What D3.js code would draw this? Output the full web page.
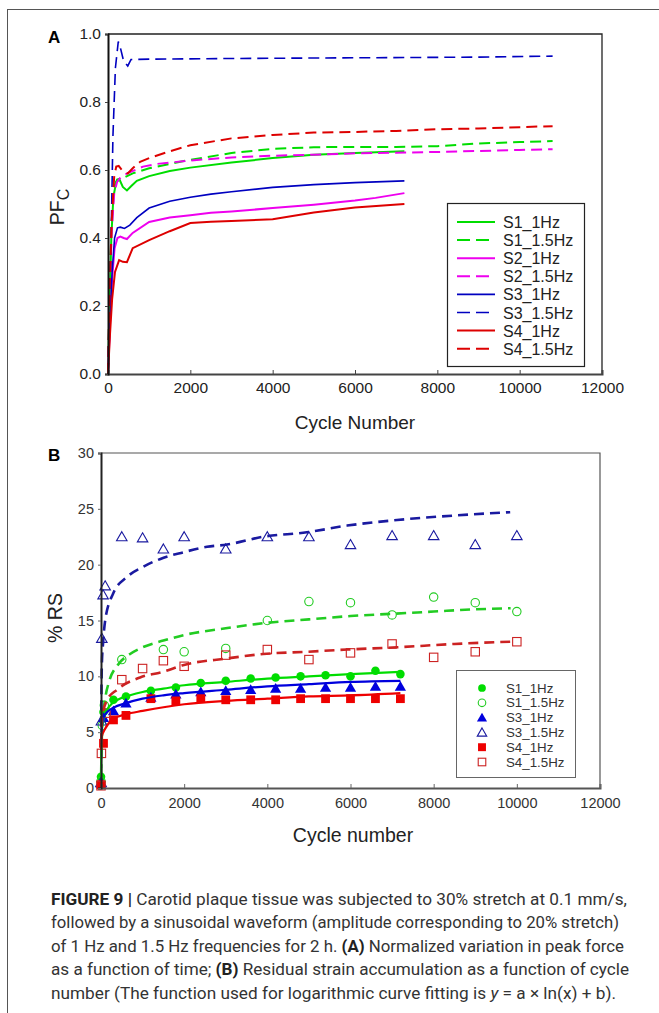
<!DOCTYPE html>
<html>
<head>
<meta charset="utf-8">
<script src="https://cdnjs.cloudflare.com/ajax/libs/d3/7.8.5/d3.min.js"></script>
<style>
  body { margin: 0; background: #fff; }
  svg { display: block; font-family: "Liberation Sans", Arial, sans-serif; }
</style>
</head>
<body>
<svg id="fig" width="659" height="1013"></svg>
<script>
// ---------- Panel A data: normalised peak force vs cycle number ----------
var xTicksA = [0, 2000, 4000, 6000, 8000, 10000, 12000];
var yTicksA = [0.0, 0.2, 0.4, 0.6, 0.8, 1.0];

var s1_1Hz = [[0,0],[40,0.2],[80,0.4],[130,0.52],[200,0.565],[280,0.572],[360,0.55],[460,0.54],[560,0.552],[700,0.568],[1000,0.582],[1500,0.597],[2000,0.607],[3000,0.622],[4000,0.635],[5000,0.645],[6000,0.65],[7200,0.655]];
var s1_15Hz = [[0,0],[40,0.25],[90,0.45],[150,0.55],[220,0.572],[300,0.575],[400,0.578],[600,0.59],[1000,0.605],[1500,0.618],[2000,0.63],[3000,0.65],[4000,0.662],[5000,0.667],[6000,0.668],[7000,0.668],[8000,0.67],[9000,0.678],[10000,0.682],[10800,0.685]];
var s2_1Hz = [[0,0],[50,0.15],[100,0.28],[160,0.37],[230,0.4],[300,0.404],[380,0.4],[460,0.397],[600,0.415],[1000,0.447],[1500,0.46],[2000,0.467],[2500,0.474],[3000,0.478],[4000,0.488],[5000,0.498],[6000,0.51],[6500,0.518],[7200,0.532]];
var s2_15Hz = [[0,0],[40,0.22],[90,0.42],[150,0.53],[220,0.565],[320,0.58],[500,0.592],[850,0.61],[1200,0.618],[2000,0.628],[3000,0.637],[4000,0.642],[5000,0.645],[6000,0.649],[7000,0.651],[8000,0.653],[9000,0.656],[10000,0.659],[10800,0.661]];
var s3_1Hz = [[0,0],[50,0.15],[100,0.3],[160,0.4],[230,0.43],[300,0.432],[400,0.428],[530,0.438],[700,0.46],[1000,0.488],[1500,0.508],[2000,0.52],[2500,0.529],[3000,0.536],[4000,0.549],[5000,0.557],[6000,0.563],[7200,0.568]];
var s3_15Hz = [[0,0],[60,0.3],[120,0.7],[180,0.9],[250,0.978],[300,0.96],[380,0.92],[480,0.906],[560,0.925],[1000,0.926],[3000,0.928],[6000,0.93],[9000,0.932],[10800,0.935]];
var s4_1Hz = [[0,0],[50,0.12],[100,0.22],[170,0.3],[270,0.335],[360,0.33],[460,0.329],[600,0.37],[1000,0.394],[1500,0.42],[2000,0.444],[2500,0.448],[3000,0.45],[4000,0.455],[5000,0.475],[6000,0.49],[7200,0.5]];
var s4_15Hz = [[0,0],[40,0.25],[90,0.45],[150,0.58],[200,0.61],[260,0.612],[350,0.598],[480,0.59],[600,0.605],[780,0.624],[1000,0.635],[1500,0.655],[2000,0.673],[3000,0.693],[4000,0.703],[5000,0.71],[6000,0.712],[7000,0.715],[8000,0.72],[9000,0.722],[10000,0.726],[10800,0.729]];

var seriesA = [
  {name: "S1_1Hz",   data: s1_1Hz,  color: "#00dd00", dash: null,   w: 2},
  {name: "S1_1.5Hz", data: s1_15Hz, color: "#00dd00", dash: "11,6", w: 2},
  {name: "S2_1Hz",   data: s2_1Hz,  color: "#ee00ee", dash: null,   w: 2},
  {name: "S2_1.5Hz", data: s2_15Hz, color: "#ee00ee", dash: "11,6", w: 2},
  {name: "S3_1Hz",   data: s3_1Hz,  color: "#0000c0", dash: null,   w: 1.6},
  {name: "S3_1.5Hz", data: s3_15Hz, color: "#0000c0", dash: "11,6", w: 1.6},
  {name: "S4_1Hz",   data: s4_1Hz,  color: "#dd0000", dash: null,   w: 2},
  {name: "S4_1.5Hz", data: s4_15Hz, color: "#dd0000", dash: "11,6", w: 2}
];

// ---------- Panel B data: residual strain (%) vs cycle number ----------
var xTicksB = [0, 2000, 4000, 6000, 8000, 10000, 12000];
var yTicksB = [0, 5, 10, 15, 20, 25, 30];

// measured points
var rsS1_1Hz = [[0,1.0],[60,6.8],[300,7.9],[600,8.2],[1200,8.7],[1800,9.0],[2400,9.4],[3000,9.6],[3600,9.8],[4200,9.9],[4800,10.0],[5400,10.1],[6000,10.0],[6600,10.5],[7200,10.2]];
var rsS1_15Hz = [[0,0.6],[30,5.6],[80,7.4],[500,11.5],[1500,12.4],[2000,12.2],[3000,12.5],[4000,15.0],[5000,16.7],[6000,16.6],[7000,15.5],[8000,17.1],[9000,16.6],[10000,15.8]];
var rsS3_1Hz = [[0,0.4],[60,6.3],[300,6.9],[600,7.6],[1200,8.1],[1800,8.4],[2400,8.6],[3000,8.7],[3600,8.8],[4200,8.9],[4800,8.9],[5400,9.0],[6000,9.0],[6600,9.1],[7200,9.1]];
var rsS3_15Hz = [[0,0.5],[10,6.0],[20,13.4],[50,17.3],[100,18.1],[500,22.5],[1000,22.4],[1500,21.4],[2000,22.5],[3000,21.4],[4000,22.5],[5000,22.5],[6000,21.8],[7000,22.6],[8000,22.6],[9000,21.8],[10000,22.6]];
var rsS4_1Hz = [[0,0.3],[60,4.0],[300,6.1],[600,6.5],[1200,8.0],[1800,7.8],[2400,8.0],[3000,7.9],[3600,7.9],[4200,7.9],[4800,8.0],[5400,8.0],[6000,8.0],[6600,8.0],[7200,8.0]];
var rsS4_15Hz = [[0,0.2],[10,3.1],[120,6.7],[500,9.7],[1000,10.7],[1500,11.4],[2000,10.9],[3000,11.9],[4000,12.4],[5000,11.5],[6000,12.1],[7000,12.9],[8000,11.7],[9000,12.2],[10000,13.1]];

// logarithmic fit curves
var fitS1_1Hz = [[3,1.8],[10,4.5],[50,6.0],[100,6.6],[200,7.3],[400,7.9],[700,8.3],[1000,8.6],[1500,8.9],[2000,9.2],[3000,9.5],[4000,9.8],[5000,10.0],[6000,10.2],[7200,10.4]];
var fitS1_15Hz = [[3,1.2],[20,4.5],[50,6.5],[100,8.0],[200,9.6],[400,11.0],[700,12.0],[1000,12.6],[1500,13.2],[2000,13.7],[3000,14.3],[4000,14.8],[5000,15.1],[6000,15.4],[7000,15.6],[8000,15.8],[9000,16.0],[9850,16.1]];
var fitS3_1Hz = [[3,4.0],[20,5.5],[60,6.3],[150,6.8],[300,7.2],[600,7.6],[1000,8.0],[1500,8.3],[2000,8.5],[3000,8.8],[4000,9.1],[5000,9.3],[6000,9.5],[7200,9.6]];
var fitS3_15Hz = [[3,5.5],[20,11.0],[50,13.0],[100,15.0],[290,17.4],[625,18.9],[1010,19.8],[1490,20.6],[1970,21.1],[2550,21.6],[3030,21.8],[3900,22.5],[4950,22.9],[5920,23.5],[7120,24.0],[8500,24.4],[9840,24.7]];
var fitS4_1Hz = [[3,3.4],[20,4.6],[100,5.3],[300,6.2],[600,6.6],[1000,6.9],[2000,7.5],[3000,7.8],[4000,8.0],[5000,8.2],[6000,8.3],[7200,8.5]];
var fitS4_15Hz = [[3,4.0],[30,6.4],[150,7.9],[385,8.8],[940,9.9],[1490,10.4],[1970,11.0],[3030,11.6],[3900,12.0],[4950,12.2],[5920,12.4],[7120,12.6],[8500,12.9],[9840,13.1]];

var seriesB = [
  {name: "S1_1Hz",   pts: rsS1_1Hz,  fit: fitS1_1Hz,  color: "#00dd00", mark: "circle",   filled: true,  dash: null},
  {name: "S1_1.5Hz", pts: rsS1_15Hz, fit: fitS1_15Hz, color: "#22cc22", mark: "circle",   filled: false, dash: "10,6"},
  {name: "S3_1Hz",   pts: rsS3_1Hz,  fit: fitS3_1Hz,  color: "#0000dd", mark: "triangle", filled: true,  dash: null},
  {name: "S3_1.5Hz", pts: rsS3_15Hz, fit: fitS3_15Hz, color: "#1a1aa0", mark: "triangle", filled: false, dash: "10,6"},
  {name: "S4_1Hz",   pts: rsS4_1Hz,  fit: fitS4_1Hz,  color: "#ee0000", mark: "square",   filled: true,  dash: null},
  {name: "S4_1.5Hz", pts: rsS4_15Hz, fit: fitS4_15Hz, color: "#cc2222", mark: "square",   filled: false, dash: "10,6"}
];

var svg = d3.select("#fig");

// outer figure frame (only top and left edges fall inside the picture)
svg.append("rect")
    .attr("x", 7.5).attr("y", 9.5)
    .attr("width", 720).attr("height", 1100)
    .attr("fill", "none").attr("stroke", "#555").attr("stroke-width", 1);

// ======================= Panel A =======================
var A = {left: 108, right: 602, top: 34, bottom: 374};
var xA = d3.scaleLinear().domain([0, 12000]).range([A.left, A.right]);
var yA = d3.scaleLinear().domain([0, 1]).range([A.bottom, A.top]);

var gA = svg.append("g");

// frame top/right
gA.append("path")
    .attr("d", "M" + A.left + "," + A.top + "H" + A.right + "V" + A.bottom)
    .attr("fill", "none").attr("stroke", "#222").attr("stroke-width", 1.3);

var lineA = d3.line().x(function(d) { return xA(d[0]); }).y(function(d) { return yA(d[1]); });

gA.selectAll(".curveA")
    .data(seriesA)
    .enter().append("path")
    .attr("class", "curveA")
    .attr("d", function(d) { return lineA(d.data); })
    .attr("fill", "none")
    .attr("stroke", function(d) { return d.color; })
    .attr("stroke-width", function(d) { return d.w; })
    .attr("stroke-dasharray", function(d) { return d.dash; });

// axes
var xAxisA = d3.axisBottom(xA).tickValues(xTicksA).tickSize(-4).tickPadding(8).tickFormat(d3.format("d"));
var yAxisA = d3.axisLeft(yA).tickValues(yTicksA).tickSize(3).tickPadding(4).tickFormat(d3.format(".1f"));

var gxA = gA.append("g").attr("transform", "translate(0," + A.bottom + ")").call(xAxisA);
var gyA = gA.append("g").attr("transform", "translate(" + A.left + ",0)").call(yAxisA);
[gxA, gyA].forEach(function(g) {
  g.select(".domain").attr("stroke", "#444").attr("stroke-width", 2);
  g.selectAll(".tick line").attr("stroke", "#444");
  g.selectAll(".tick text").attr("font-size", 15.5).attr("fill", "#222")
    .attr("font-family", "Liberation Sans, Arial, sans-serif");
});
gyA.select(".domain").attr("stroke", "#111");
gxA.selectAll(".tick text").attr("dy", "0.71em");

gA.append("text")
    .attr("x", (A.left + A.right) / 2).attr("y", 429)
    .attr("text-anchor", "middle").attr("font-size", 19).attr("fill", "#222")
    .text("Cycle Number");

var ylabA = gA.append("text")
    .attr("transform", "translate(64,207) rotate(-90)")
    .attr("text-anchor", "middle").attr("font-size", 19.5).attr("fill", "#222");
ylabA.append("tspan").text("PF");
ylabA.append("tspan").attr("font-size", 16).attr("dy", 5).text("C");

gA.append("text").attr("x", 48).attr("y", 43)
    .attr("font-size", 17).attr("font-weight", "bold").text("A");

// legend A
var legA = gA.append("g");
legA.append("rect")
    .attr("x", 447.5).attr("y", 203.5).attr("width", 137).attr("height", 163)
    .attr("fill", "#fff").attr("stroke", "#222").attr("stroke-width", 1.2);
var legItemA = legA.selectAll(".li")
    .data(seriesA)
    .enter().append("g")
    .attr("transform", function(d, i) { return "translate(0," + (222 + i * 18.1) + ")"; });
legItemA.append("line")
    .attr("x1", 457).attr("x2", 495)
    .attr("stroke", function(d) { return d.color; })
    .attr("stroke-width", function(d) { return d.w; })
    .attr("stroke-dasharray", function(d) { return d.dash ? "13,6" : null; });
legItemA.append("text")
    .attr("x", 503).attr("y", 6)
    .attr("font-size", 16).attr("fill", "#222")
    .text(function(d) { return d.name; });

// ======================= Panel B =======================
var B = {left: 101, right: 600, top: 453, bottom: 788};
var xB = d3.scaleLinear().domain([0, 12000]).range([B.left, B.right]);
var yB = d3.scaleLinear().domain([0, 30]).range([B.bottom, B.top]);

var gB = svg.append("g");

gB.append("path")
    .attr("d", "M" + B.left + "," + B.top + "H" + B.right + "V" + B.bottom)
    .attr("fill", "none").attr("stroke", "#555").attr("stroke-width", 1.2);

var lineB = d3.line().curve(d3.curveMonotoneX)
    .x(function(d) { return xB(d[0]); }).y(function(d) { return yB(d[1]); });

var triangle = d3.symbol().type(d3.symbolTriangle);

function drawMarks(g, s, px, py, scale) {
  var k = scale || 1;
  var fill = s.filled ? s.color : "none";
  var sw = s.filled ? 0 : 1.1;
  if (s.mark === "circle") {
    g.append("circle").attr("cx", px).attr("cy", py).attr("r", (s.filled ? 4.3 : 4.2) * k)
      .attr("fill", fill).attr("stroke", s.color).attr("stroke-width", sw);
  } else if (s.mark === "square") {
    var h = (s.filled ? 4.4 : 4.2) * k;
    g.append("rect").attr("x", px - h).attr("y", py - h).attr("width", 2 * h).attr("height", 2 * h)
      .attr("fill", fill).attr("stroke", s.color).attr("stroke-width", sw);
  } else {
    g.append("path").attr("d", triangle.size((s.filled ? 55 : 48) * k * k)())
      .attr("transform", "translate(" + px + "," + (py + 1) + ")")
      .attr("fill", fill).attr("stroke", s.color).attr("stroke-width", sw);
  }
}

// markers first, fit curves over them
seriesB.forEach(function(s) {
  var g = gB.append("g");
  s.pts.forEach(function(p) { drawMarks(g, s, xB(p[0]), yB(p[1])); });
});
seriesB.forEach(function(s) {
  gB.append("path")
    .attr("d", lineB(s.fit))
    .attr("fill", "none")
    .attr("stroke", s.color)
    .attr("stroke-width", s.dash ? 2.6 : 2.2)
    .attr("stroke-dasharray", s.dash);
});

var xAxisB = d3.axisBottom(xB).tickValues(xTicksB).tickSize(-4).tickPadding(10).tickFormat(d3.format("d"));
var yAxisB = d3.axisLeft(yB).tickValues(yTicksB).tickSize(3).tickPadding(4).tickFormat(d3.format("d"));
var gxB = gB.append("g").attr("transform", "translate(0," + B.bottom + ")").call(xAxisB);
var gyB = gB.append("g").attr("transform", "translate(" + B.left + ",0)").call(yAxisB);
[gxB, gyB].forEach(function(g) {
  g.select(".domain").attr("stroke", "#555").attr("stroke-width", 2);
  g.selectAll(".tick line").attr("stroke", "#666");
  g.selectAll(".tick text").attr("font-size", 14.5).attr("fill", "#333")
    .attr("font-family", "Liberation Sans, Arial, sans-serif");
});
gyB.select(".domain").attr("stroke", "#222");
gxB.selectAll(".tick text").attr("dy", "0.71em");

gB.append("text")
    .attr("x", 353).attr("y", 842)
    .attr("text-anchor", "middle").attr("font-size", 19.5).attr("fill", "#222")
    .text("Cycle number");

gB.append("text")
    .attr("transform", "translate(62,618) rotate(-90)")
    .attr("text-anchor", "middle").attr("font-size", 19.5).attr("fill", "#222")
    .text("% RS");

gB.append("text").attr("x", 48).attr("y", 461)
    .attr("font-size", 17).attr("font-weight", "bold").text("B");

// legend B
var legB = gB.append("g");
legB.append("rect")
    .attr("x", 456.5).attr("y", 670.5).attr("width", 119).attr("height", 107)
    .attr("fill", "#fff").attr("stroke", "#666").attr("stroke-width", 1);
seriesB.forEach(function(s, i) {
  var yy = 688 + i * 14.8;
  drawMarks(legB, s, 482, yy, 0.9);
  legB.append("text")
    .attr("x", 506).attr("y", yy + 4.5)
    .attr("font-size", 13.3).attr("fill", "#333")
    .text(s.name);
});

// ======================= Caption =======================
var capLines = [
  [{t: "FIGURE 9 | ", b: true}, {t: "Carotid plaque tissue was subjected to 30% stretch at 0.1 mm/s,"}],
  [{t: "followed by a sinusoidal waveform (amplitude corresponding to 20% stretch)"}],
  [{t: "of 1 Hz and 1.5 Hz frequencies for 2 h. "}, {t: "(A)", b: true}, {t: " Normalized variation in peak force"}],
  [{t: "as a function of time; "}, {t: "(B)", b: true}, {t: " Residual strain accumulation as a function of cycle"}],
  [{t: "number (The function used for logarithmic curve fitting is "}, {t: "y", i: true}, {t: " = a \u00d7 ln(x) + b)."}]
];
var capWidths = [576, 568, 573, 578, 565];

capLines.forEach(function(parts, i) {
  var t = svg.append("text")
      .attr("x", 51).attr("y", 905 + i * 23.4)
      .attr("font-family", "Roboto, 'Liberation Sans', sans-serif")
      .attr("font-size", 16.5).attr("fill", "#333")
      .attr("textLength", capWidths[i]).attr("lengthAdjust", "spacingAndGlyphs");
  parts.forEach(function(p) {
    t.append("tspan")
      .attr("font-weight", p.b ? "bold" : null)
      .attr("font-style", p.i ? "italic" : null)
      .attr("fill", p.b ? "#222" : null)
      .text(p.t);
  });
});
</script>
</body>
</html>
